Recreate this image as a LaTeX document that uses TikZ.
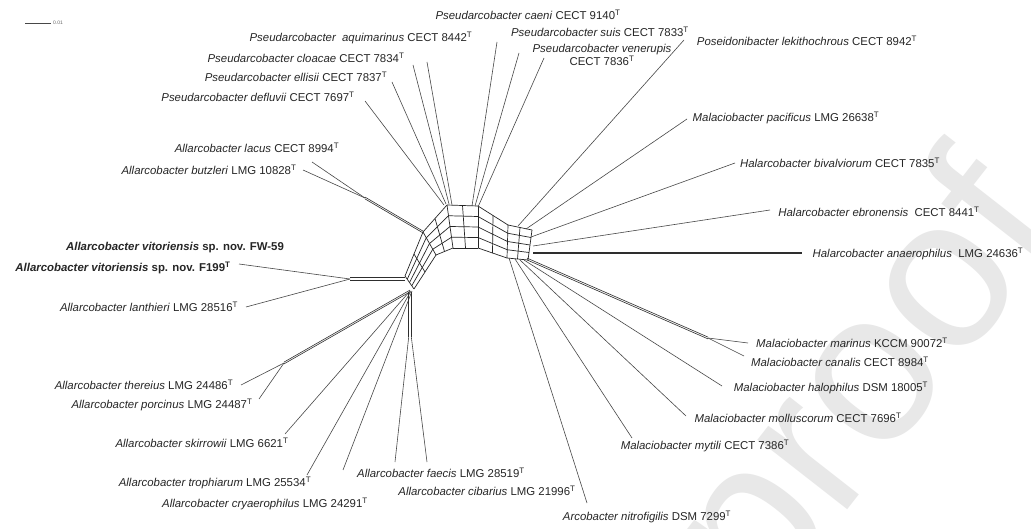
\documentclass[tikz,border=0pt]{standalone}
\usepackage{fontspec}
\setmainfont{Liberation Sans}
\usetikzlibrary{calc}
\begin{document}
\begin{tikzpicture}[x=1pt,y=-1pt,
  net/.style={draw=black!85, line width=0.7pt},
  pend/.style={draw=black!72, line width=0.6pt},
  pair/.style={draw=black!82, line width=0.6pt},
  lbl/.style={inner sep=0pt, font=\fontsize{11.4}{13.4}\selectfont, text=black!85},
  wm/.style={inner sep=0pt, rotate=52, text=black!9, font=\fontsize{215}{215}\selectfont}]
% background
\path[use as bounding box, fill=white] (0,0) rectangle (1031,529);
% watermark
\node[wm] (wmark) at (872,388) {proof};
% scale bar
\coordinate (sb1) at (25,23);
\coordinate (sb2) at (51,23);
\draw[pend, line width=0.5pt] (sb1) -- (sb2);
\node[inner sep=0pt, anchor=west, font=\fontsize{5}{6}\selectfont, text=black!60] (sbl) at (53,23) {0.01};
% ---------- central network ----------
\coordinate (S0-o) at (405,276); \coordinate (S0-i) at (414,289);
\coordinate (S1-o) at (423,232); \coordinate (S1-i) at (436,255);
\coordinate (S2-o) at (447,205); \coordinate (S2-i) at (453,248);
\coordinate (S3-o) at (478,206); \coordinate (S3-i) at (478,248);
\coordinate (S4-o) at (508,225); \coordinate (S4-i) at (507,258);
\coordinate (S5-o) at (532,230); \coordinate (S5-i) at (528,260);
\foreach \a/\b in {S0/S1,S1/S2,S2/S3,S3/S4,S4/S5}{
  \foreach \f in {0,0.25,0.5,0.75,1}{
    \draw[net] ($(\a-o)!\f!(\a-i)$) -- ($(\b-o)!\f!(\b-i)$);
  }
  \draw[net] ($(\a-o)!0.5!(\b-o)$) -- ($(\a-i)!0.5!(\b-i)$);
}
\foreach \a in {S0,S1,S2,S3,S4,S5}{
  \draw[net] (\a-o) -- (\a-i);
}
% ---------- labels ----------
\node[lbl] (caeni) at (528,15) {\textit{Pseudarcobacter caeni} CECT 9140\textsuperscript{T}};
\node[lbl] (aquim) at (361,38) {\textit{Pseudarcobacter\ \ aquimarinus} CECT 8442\textsuperscript{T}};
\node[lbl] (cloac) at (306,58) {\textit{Pseudarcobacter cloacae} CECT 7834\textsuperscript{T}};
\node[lbl] (ellis) at (296,77) {\textit{Pseudarcobacter ellisii} CECT 7837\textsuperscript{T}};
\node[lbl] (deflu) at (258,97) {\textit{Pseudarcobacter defluvii} CECT 7697\textsuperscript{T}};
\node[lbl] (suis) at (600,32) {\textit{Pseudarcobacter suis} CECT 7833\textsuperscript{T}};
\node[lbl, align=center] (vener) at (602,55) {\textit{Pseudarcobacter venerupis}\\CECT 7836\textsuperscript{T}};
\node[lbl] (lekit) at (807,41) {\textit{Poseidonibacter lekithochrous} CECT 8942\textsuperscript{T}};
\node[lbl] (pacif) at (786,118) {\textit{Malaciobacter pacificus} LMG 26638\textsuperscript{T}};
\node[lbl] (bival) at (840,163) {\textit{Halarcobacter bivalviorum} CECT 7835\textsuperscript{T}};
\node[lbl] (ebron) at (879,212) {\textit{Halarcobacter ebronensis}\ \ CECT 8441\textsuperscript{T}};
\node[lbl] (anaer) at (918,254) {\textit{Halarcobacter anaerophilus}\ \ LMG 24636\textsuperscript{T}};
\node[lbl] (marin) at (852,343) {\textit{Malaciobacter marinus} KCCM 90072\textsuperscript{T}};
\node[lbl] (canal) at (840,362) {\textit{Malaciobacter canalis} CECT 8984\textsuperscript{T}};
\node[lbl] (halop) at (831,388) {\textit{Malaciobacter halophilus} DSM 18005\textsuperscript{T}};
\node[lbl] (mollu) at (798,418) {\textit{Malaciobacter molluscorum} CECT 7696\textsuperscript{T}};
\node[lbl] (mytil) at (705,446) {\textit{Malaciobacter mytili} CECT 7386\textsuperscript{T}};
\node[lbl] (nitro) at (647,517) {\textit{Arcobacter nitrofigilis} DSM 7299\textsuperscript{T}};
\node[lbl] (cibar) at (487,491) {\textit{Allarcobacter cibarius} LMG 21996\textsuperscript{T}};
\node[lbl] (faeci) at (441,473) {\textit{Allarcobacter faecis} LMG 28519\textsuperscript{T}};
\node[lbl] (cryae) at (265,504) {\textit{Allarcobacter cryaerophilus} LMG 24291\textsuperscript{T}};
\node[lbl] (troph) at (215,483) {\textit{Allarcobacter trophiarum} LMG 25534\textsuperscript{T}};
\node[lbl] (skirr) at (202,443) {\textit{Allarcobacter skirrowii} LMG 6621\textsuperscript{T}};
\node[lbl] (porci) at (162,405) {\textit{Allarcobacter porcinus} LMG 24487\textsuperscript{T}};
\node[lbl] (there) at (144,385) {\textit{Allarcobacter thereius} LMG 24486\textsuperscript{T}};
\node[lbl] (lanth) at (149,307) {\textit{Allarcobacter lanthieri} LMG 28516\textsuperscript{T}};
\node[lbl] (vitF) at (123,268) {\bfseries\itshape Allarcobacter vitoriensis\upshape\ sp. nov. F199\textsuperscript{T}};
\node[lbl] (vitW) at (175,248) {\bfseries\itshape Allarcobacter vitoriensis\upshape\ sp. nov. FW-59};
\node[lbl] (butzl) at (209,170) {\textit{Allarcobacter butzleri} LMG 10828\textsuperscript{T}};
\node[lbl] (lacus) at (257,148) {\textit{Allarcobacter lacus} CECT 8994\textsuperscript{T}};
% ---------- pendant edges: Pseudarcobacter ----------
\coordinate (defA) at (444,205); \coordinate (defE) at (365,101);
\coordinate (ellA) at (446,204); \coordinate (ellE) at (392,82);
\coordinate (cloA) at (449,204); \coordinate (cloE) at (413,65);
\coordinate (aquA) at (452,205); \coordinate (aquE) at (427,62);
\coordinate (caeA) at (472,206); \coordinate (caeE) at (497,42);
\coordinate (suiA) at (475,206); \coordinate (suiE) at (519,53);
\coordinate (venA) at (478,207); \coordinate (venE) at (544,58);
\draw[pend] (defA) -- (defE);
\draw[pend] (ellA) -- (ellE);
\draw[pend] (cloA) -- (cloE);
\draw[pend] (aquA) -- (aquE);
\draw[pend] (caeA) -- (caeE);
\draw[pend] (suiA) -- (suiE);
\draw[pend] (venA) -- (venE);
% ---------- butzleri / lacus ----------
\coordinate (J1) at (365,198);
\coordinate (butE) at (303,170); \coordinate (lacE) at (312,162);
\draw[pair] ($(S1-o)+(0,-0.9)$) -- ($(J1)+(0,-0.9)$);
\draw[pair] ($(S1-o)+(0,0.9)$) -- ($(J1)+(0,0.9)$);
\draw[pend] (J1) -- (butE);
\draw[pend] (J1) -- (lacE);
% ---------- vitoriensis / lanthieri ----------
\coordinate (J2) at (350,279);
\coordinate (J2b) at (405,279);
\coordinate (vitE) at (239,264); \coordinate (lanE) at (246,307);
\draw[pair] ($(J2b)+(0,-1.3)$) -- ($(J2)+(0,-1.3)$);
\draw[pair] ($(J2b)+(0,1.3)$) -- ($(J2)+(0,1.3)$);
\draw[pend] (J2) -- (vitE);
\draw[pend] (J2) -- (lanE);
% ---------- lower-left group ----------
\coordinate (LLA) at (410,291);
\coordinate (J3) at (284,363);
\coordinate (thrE) at (241,385); \coordinate (porE) at (259,399);
\draw[pair] ($(LLA)+(0,-0.9)$) -- ($(J3)+(0,-0.9)$);
\draw[pair] ($(LLA)+(0,0.9)$) -- ($(J3)+(0,0.9)$);
\draw[pend] (J3) -- (thrE);
\draw[pend] (J3) -- (porE);
\coordinate (skiE) at (285,434);
\coordinate (troE) at (307,475);
\coordinate (cryE) at (343,470);
\draw[pend] (LLA) -- (skiE);
\draw[pend] ($(LLA)+(1,0)$) -- (troE);
\draw[pend] ($(LLA)+(2,0)$) -- (cryE);
\coordinate (J4) at (410,337);
\coordinate (faeE) at (395,462); \coordinate (cibE) at (427,462);
\draw[pair] ($(LLA)+(-1.3,1)$) -- ($(J4)+(-1.3,0)$);
\draw[pair] ($(LLA)+(1.3,1)$) -- ($(J4)+(1.3,0)$);
\draw[pend] ($(J4)+(-1.3,0)$) -- (faeE);
\draw[pend] ($(J4)+(1.3,0)$) -- (cibE);
% ---------- right hub: lower ----------
\coordinate (nitA) at (509,258); \coordinate (nitE) at (587,503);
\coordinate (mytA) at (515,259); \coordinate (mytE) at (632,438);
\coordinate (molA) at (520,260); \coordinate (molE) at (686,416);
\coordinate (halA) at (524,260); \coordinate (halE) at (722,386);
\coordinate (marA) at (527,259); \coordinate (J5) at (708,338);
\coordinate (marE) at (748,343); \coordinate (canE) at (744,356);
\draw[pend] (nitA) -- (nitE);
\draw[pend] (mytA) -- (mytE);
\draw[pend] (molA) -- (molE);
\draw[pend] (halA) -- (halE);
\draw[pair] ($(marA)+(0,-0.9)$) -- ($(J5)+(0,-0.9)$);
\draw[pair] ($(marA)+(0,0.9)$) -- ($(J5)+(0,0.9)$);
\draw[pend] (J5) -- (marE);
\draw[pend] (J5) -- (canE);
% ---------- right hub: upper ----------
\coordinate (lekA) at (518,226); \coordinate (lekE) at (684,40);
\coordinate (pacA) at (526,229); \coordinate (pacE) at (687,119);
\coordinate (bivA) at (531,237); \coordinate (bivE) at (735,163);
\coordinate (ebrA) at (533,246); \coordinate (ebrE) at (770,210);
\coordinate (anaA) at (533,253); \coordinate (anaE) at (802,253);
\draw[pend] (lekA) -- (lekE);
\draw[pend] (pacA) -- (pacE);
\draw[pend] (bivA) -- (bivE);
\draw[pend] (ebrA) -- (ebrE);
\draw[pair] ($(anaA)+(0,-0.8)$) -- ($(anaE)+(0,-0.8)$);
\draw[pair] ($(anaA)+(0,0.8)$) -- ($(anaE)+(0,0.8)$);
\end{tikzpicture}
\end{document}
